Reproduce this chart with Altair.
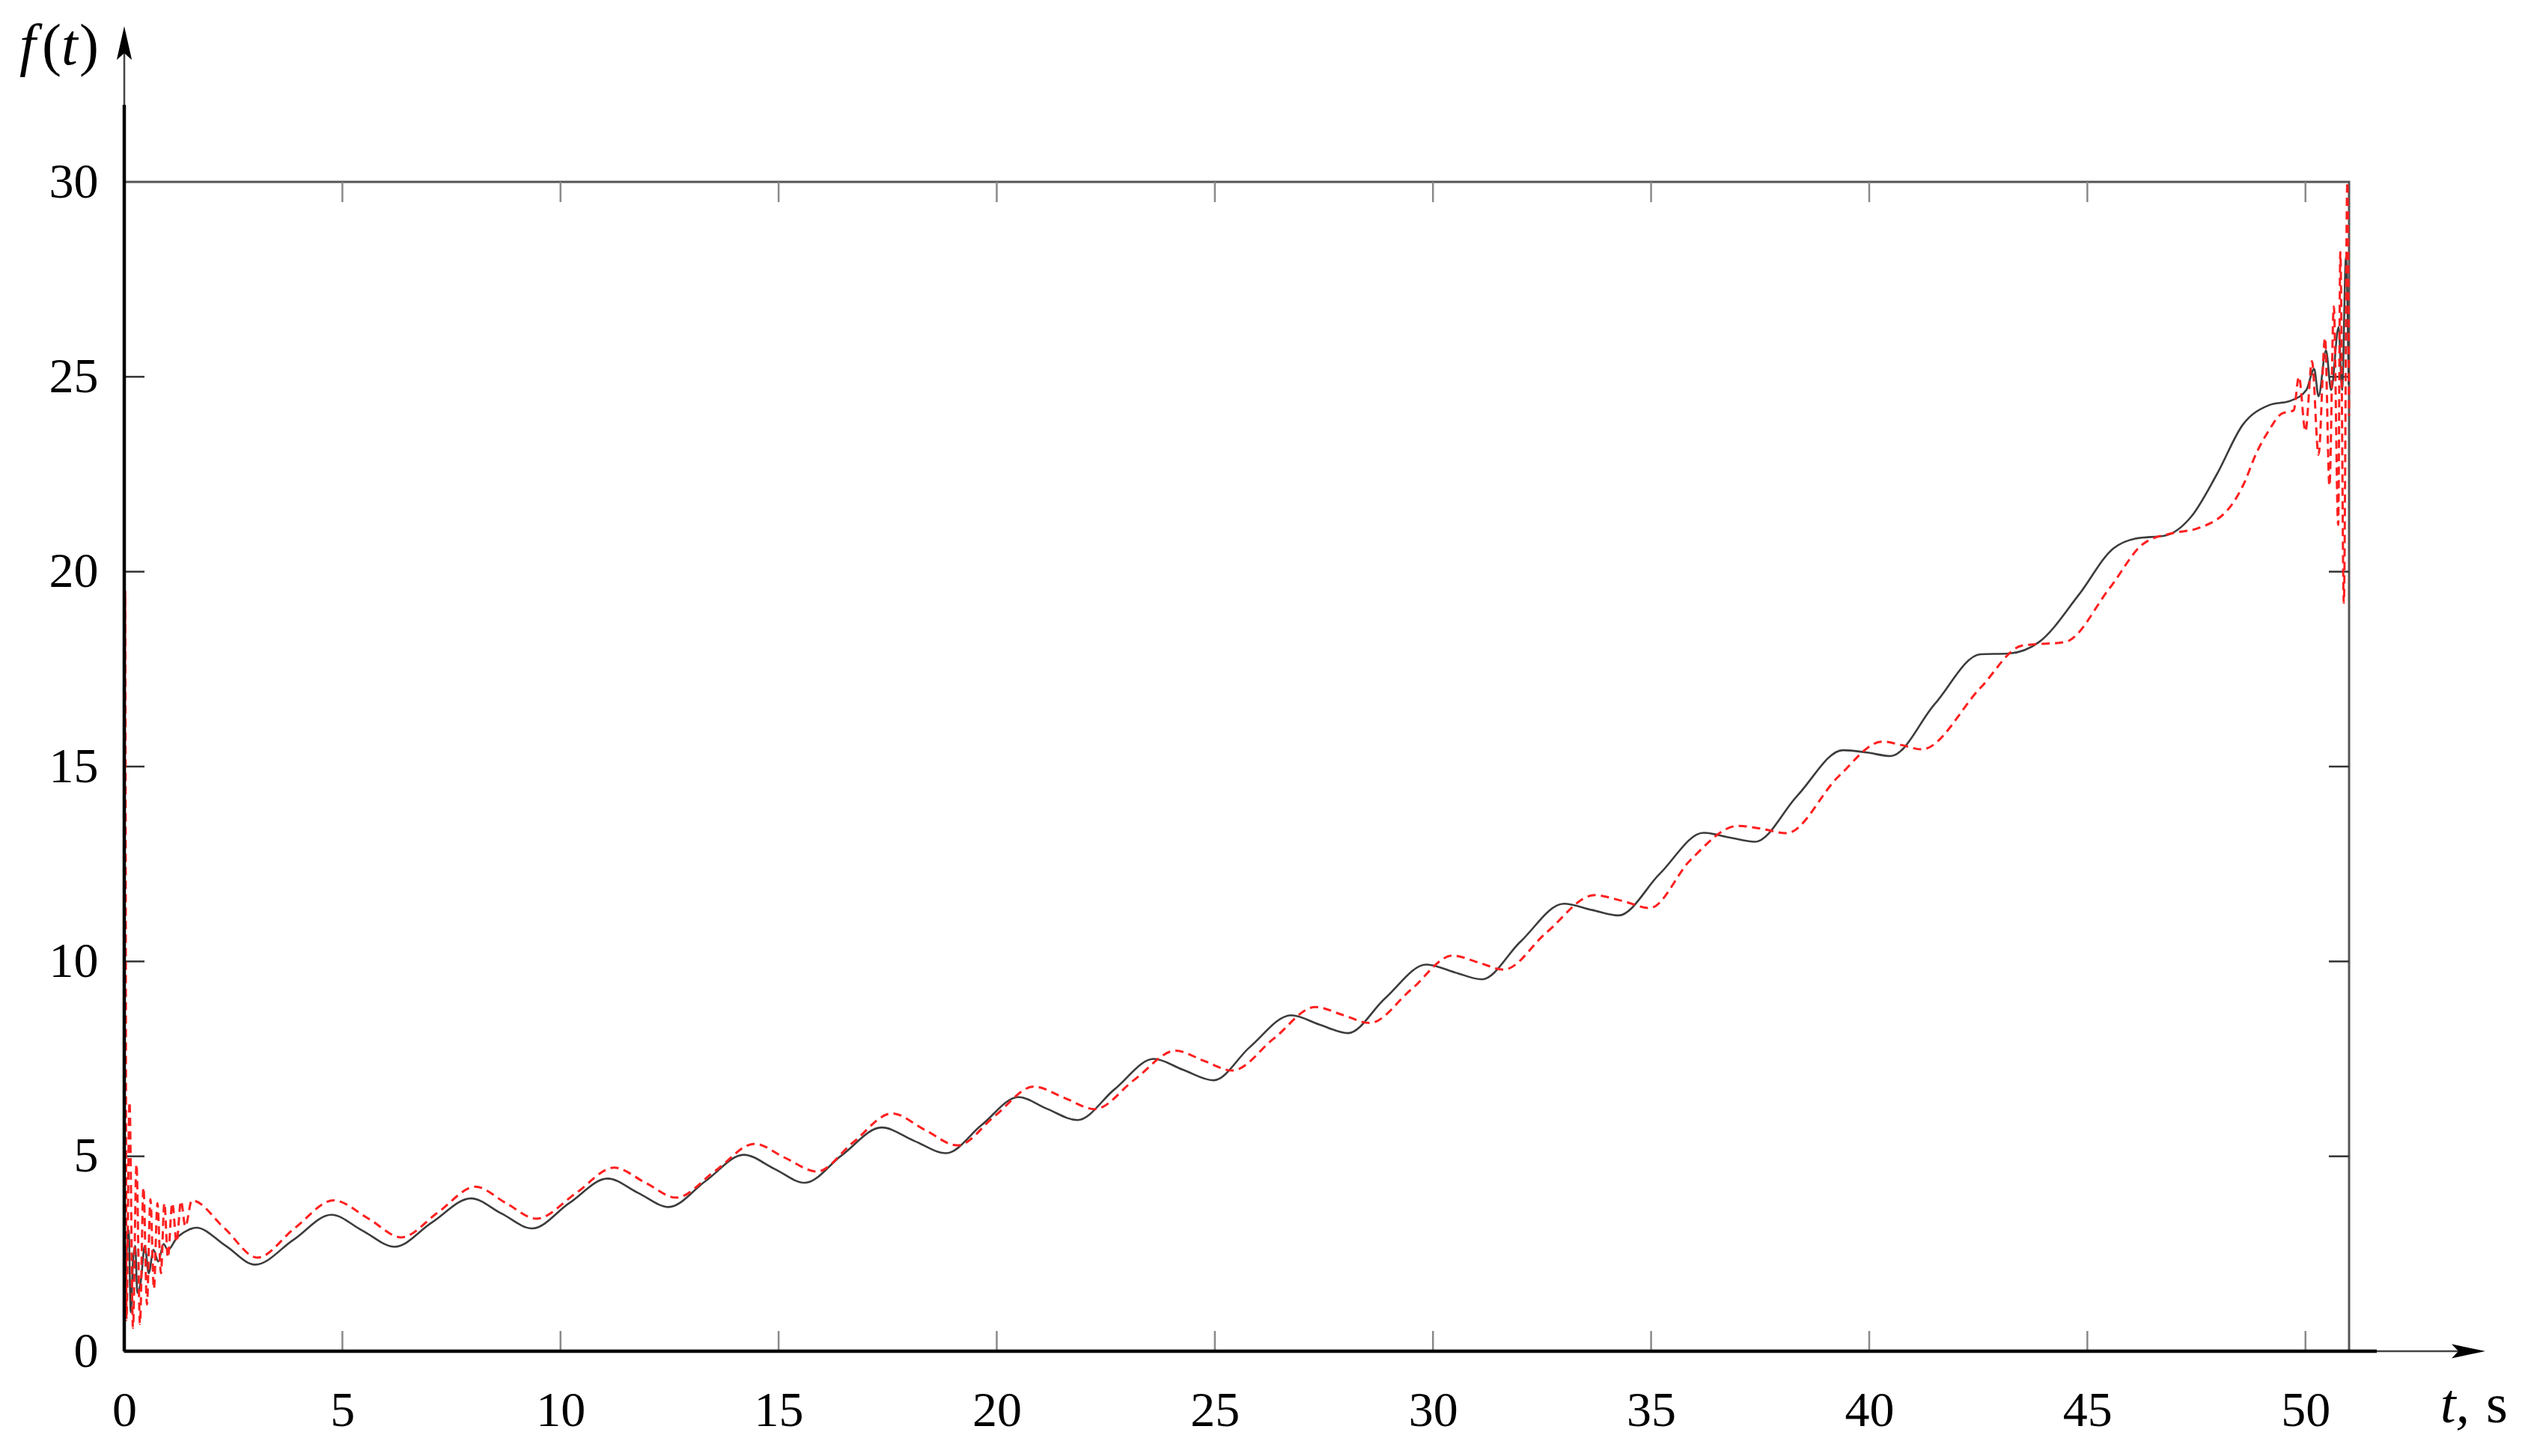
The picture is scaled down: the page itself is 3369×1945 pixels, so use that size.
import altair as alt
import pandas as pd

# ---- data ----
BLACK_T = [0, 0.05, 0.1, 0.15, 0.2, 0.25, 0.3, 0.38, 0.47, 0.56, 0.67, 0.78, 0.9, 1.0, 1.2, 1.45, 1.65,
           2.33, 3.0, 3.88, 4.75, 5.45, 6.2, 7.05, 7.95, 8.65, 9.35, 10.2, 11.08, 11.78, 12.48, 13.33,
           14.2, 14.9, 15.6, 16.45, 17.36, 18.1, 18.84, 19.65, 20.5, 21.15, 21.85, 22.7, 23.6, 24.27,
           24.97, 25.8, 26.75, 27.4, 28.05, 28.9, 29.85, 30.5, 31.12, 32.0, 33.0, 33.65, 34.25, 35.2,
           36.2, 36.8, 37.38, 38.35, 39.4, 39.95, 40.49, 41.5, 42.55, 43.2, 43.9, 44.8, 45.6, 46.1,
           46.8, 47.38, 47.97, 48.57, 49.16, 49.67, 50.02, 50.2, 50.3, 50.47, 50.59, 50.76, 50.84,
           50.93, 50.99]
BLACK_F = [0.9, 2.4, 3.1, 1.0, 2.3, 2.7, 1.5, 1.8, 2.7, 2.0, 2.6, 2.3, 2.75, 2.6, 2.9, 3.1, 3.17,
           2.7, 2.22, 2.86, 3.5, 3.1, 2.68, 3.3, 3.92, 3.53, 3.15, 3.8, 4.43, 4.06, 3.7, 4.37,
           5.04, 4.68, 4.32, 5.03, 5.74, 5.4, 5.08, 5.8, 6.52, 6.22, 5.93, 6.72, 7.5, 7.22,
           6.95, 7.8, 8.62, 8.38, 8.16, 9.05, 9.92, 9.72, 9.54, 10.5, 11.48, 11.32, 11.18, 12.25,
           13.3, 13.18, 13.07, 14.25, 15.42, 15.36, 15.27, 16.6, 17.88, 17.9, 18.2, 19.4, 20.6, 20.85,
           20.93, 21.41, 22.5, 23.78, 24.27, 24.39, 24.66, 25.2, 24.5, 25.68, 24.66, 26.28, 24.66,
           28.08, 24.8]

RED_T = [0, 0.02, 0.05, 0.12, 0.2, 0.28, 0.36, 0.44, 0.52, 0.6, 0.68, 0.76, 0.84, 0.92, 1.0, 1.1,
         1.2, 1.3, 1.4, 1.55, 2.3, 3.05, 3.9, 4.8, 5.6, 6.35, 7.2, 8.05, 8.75, 9.45, 10.35, 11.23,
         11.95, 12.65, 13.55, 14.45, 15.15, 15.88, 16.7, 17.6, 18.35, 19.1, 19.95, 20.85, 21.55,
         22.25, 23.15, 24.1, 24.75, 25.4, 26.35, 27.3, 27.95, 28.55, 29.5, 30.45, 31.05, 31.62,
         32.6, 33.7, 34.35, 34.97, 35.9, 37.0, 37.55, 38.1, 39.3, 40.3, 40.75, 41.2, 42.55, 43.5,
         44.5, 45.5, 46.3, 47.0, 47.5, 48.3, 48.59, 48.87, 49.16, 49.45, 49.73, 49.85, 50.0, 50.15,
         50.3, 50.45, 50.55, 50.65, 50.75, 50.8, 50.88, 50.96, 51.0]
RED_F = [1.0, 19.5, 0.8, 6.4, 0.6, 4.8, 0.7, 4.2, 1.2, 3.9, 1.6, 3.8, 2.0, 3.8, 2.4, 3.8,
         2.8, 3.85, 3.2, 3.87, 3.15, 2.4, 3.15, 3.87, 3.4, 2.92, 3.57, 4.22, 3.8, 3.4, 4.05, 4.71,
         4.32, 3.94, 4.63, 5.32, 4.96, 4.61, 5.35, 6.1, 5.68, 5.28, 6.03, 6.79, 6.5,
         6.21, 6.96, 7.71, 7.45, 7.2, 8.02, 8.83, 8.62, 8.42, 9.28, 10.15, 9.97, 9.79,
         10.74, 11.7, 11.55, 11.37, 12.6, 13.48, 13.4, 13.29, 14.75, 15.64, 15.55, 15.44, 17.02, 18.1,
         18.2, 19.56, 20.73, 21.0, 21.1, 21.7, 22.26, 23.03, 23.62, 24.05, 24.14, 25.0, 23.6, 25.4,
         23.0, 26.0, 22.2, 26.8, 21.2, 28.2, 19.2, 30.0, 24.0]

X_TICKS = [0, 5, 10, 15, 20, 25, 30, 35, 40, 45, 50]
Y_TICKS = [0, 5, 10, 15, 20, 25, 30]
X_INNER = [5, 10, 15, 20, 25, 30, 35, 40, 45, 50]
Y_INNER = [5, 10, 15, 20, 25]

assert len(BLACK_T) == len(BLACK_F) and len(RED_T) == len(RED_F)

W, H = 2972, 1562
FONT = "Liberation Serif"
FS = 66

black_df = pd.DataFrame({"t": BLACK_T, "f": BLACK_F})
red_df = pd.DataFrame({"t": RED_T, "f": RED_F})
xt_df = pd.DataFrame({"t": X_INNER})
yt_df = pd.DataFrame({"f": Y_INNER})
one = alt.Data(values=[{}])

xscale = alt.Scale(domain=[0, 51], nice=False, zero=False)
yscale = alt.Scale(domain=[0, 30], nice=False, zero=False)

xaxis = alt.Axis(values=X_TICKS, format="d", domain=False, ticks=False, grid=False, title=None,
                 labelFont=FONT, labelFontSize=FS, labelColor="black", labelPadding=47,
                 labelFlush=False, labelOverlap=False)
yaxis = alt.Axis(values=Y_TICKS, format="d", domain=False, ticks=False, grid=False, title=None,
                 labelFont=FONT, labelFontSize=FS, labelColor="black", labelPadding=35,
                 labelFlush=False, labelOverlap=False)

black_line = alt.Chart(black_df).mark_line(color="#3c3c3c", strokeWidth=2.6, interpolate="monotone").encode(
    x=alt.X("t:Q", scale=xscale, axis=xaxis),
    y=alt.Y("f:Q", scale=yscale, axis=yaxis),
)
red_line = alt.Chart(red_df).mark_line(color="#ff1f1f", strokeWidth=3, strokeDash=[11, 7],
                                       interpolate="monotone").encode(
    x=alt.X("t:Q", scale=xscale),
    y=alt.Y("f:Q", scale=yscale),
)

# inward ticks
bottom_ticks = alt.Chart(xt_df).mark_rule(color="#8a8a8a", strokeWidth=2.5).encode(
    x=alt.X("t:Q", scale=xscale), y=alt.value(H), y2=alt.value(H - 27))
top_ticks = alt.Chart(xt_df).mark_rule(color="#8a8a8a", strokeWidth=2.5).encode(
    x=alt.X("t:Q", scale=xscale), y=alt.value(0), y2=alt.value(27))
left_ticks = alt.Chart(yt_df).mark_rule(color="#333333", strokeWidth=2.5).encode(
    y=alt.Y("f:Q", scale=yscale), x=alt.value(0), x2=alt.value(27))
right_ticks = alt.Chart(yt_df).mark_rule(color="#333333", strokeWidth=2.5).encode(
    y=alt.Y("f:Q", scale=yscale), x=alt.value(W), x2=alt.value(W - 27))

# axes with arrows
y_axis_thick = alt.Chart(one).mark_rule(color="black", strokeWidth=4.5).encode(
    x=alt.value(0), y=alt.value(H), y2=alt.value(-103))
y_axis_thin = alt.Chart(one).mark_rule(color="#444444", strokeWidth=2.5).encode(
    x=alt.value(0), y=alt.value(-103), y2=alt.value(-175))
x_axis_thick = alt.Chart(one).mark_rule(color="black", strokeWidth=4.5).encode(
    y=alt.value(H), x=alt.value(0), x2=alt.value(3009))
x_axis_thin = alt.Chart(one).mark_rule(color="#444444", strokeWidth=2.5).encode(
    y=alt.value(H), x=alt.value(3009), x2=alt.value(3120))

y_arrow = alt.Chart(one).mark_point(shape="M0,-1 L0.45,1 L0,0.6 L-0.45,1 Z", filled=True,
                                    color="black", opacity=1, size=2025).encode(
    x=alt.value(0), y=alt.value(-185.5))
x_arrow = alt.Chart(one).mark_point(shape="M1,0 L-1,-0.42 L-0.6,0 L-1,0.42 Z", filled=True,
                                    color="black", opacity=1, size=2025).encode(
    x=alt.value(3131.5), y=alt.value(H))

# axis titles: f(t) with italic f and t, upright parentheses
def txt(s, x, y, italic, size=78):
    kw = dict(font=FONT, fontSize=size, align="left", baseline="alphabetic", color="black", text=s)
    if italic:
        kw["fontStyle"] = "italic"
    return alt.Chart(one).mark_text(**kw).encode(x=alt.value(x), y=alt.value(y))

title_parts = [
    txt("f", -140, -157, True),
    txt("(", -110, -157, False),
    txt("t", -84, -157, True),
    txt(")", -60, -157, False),
    txt("t,", 3094, 1657, True, 74),
    txt("s", 3155, 1657, False, 74),
]

chart = alt.layer(
    bottom_ticks, top_ticks, left_ticks, right_ticks,
    black_line, red_line,
    y_axis_thick, y_axis_thin, x_axis_thick, x_axis_thin, y_arrow, x_arrow,
    *title_parts,
).properties(
    width=W, height=H,
    autosize=alt.AutoSizeParams(type="none"),
    padding={"left": 158, "top": 235, "right": 220, "bottom": 120},
    background="white",
).configure_view(stroke="#555555", strokeWidth=3)

chart.save("out.html", embed_options={"renderer": "svg", "actions": False})
